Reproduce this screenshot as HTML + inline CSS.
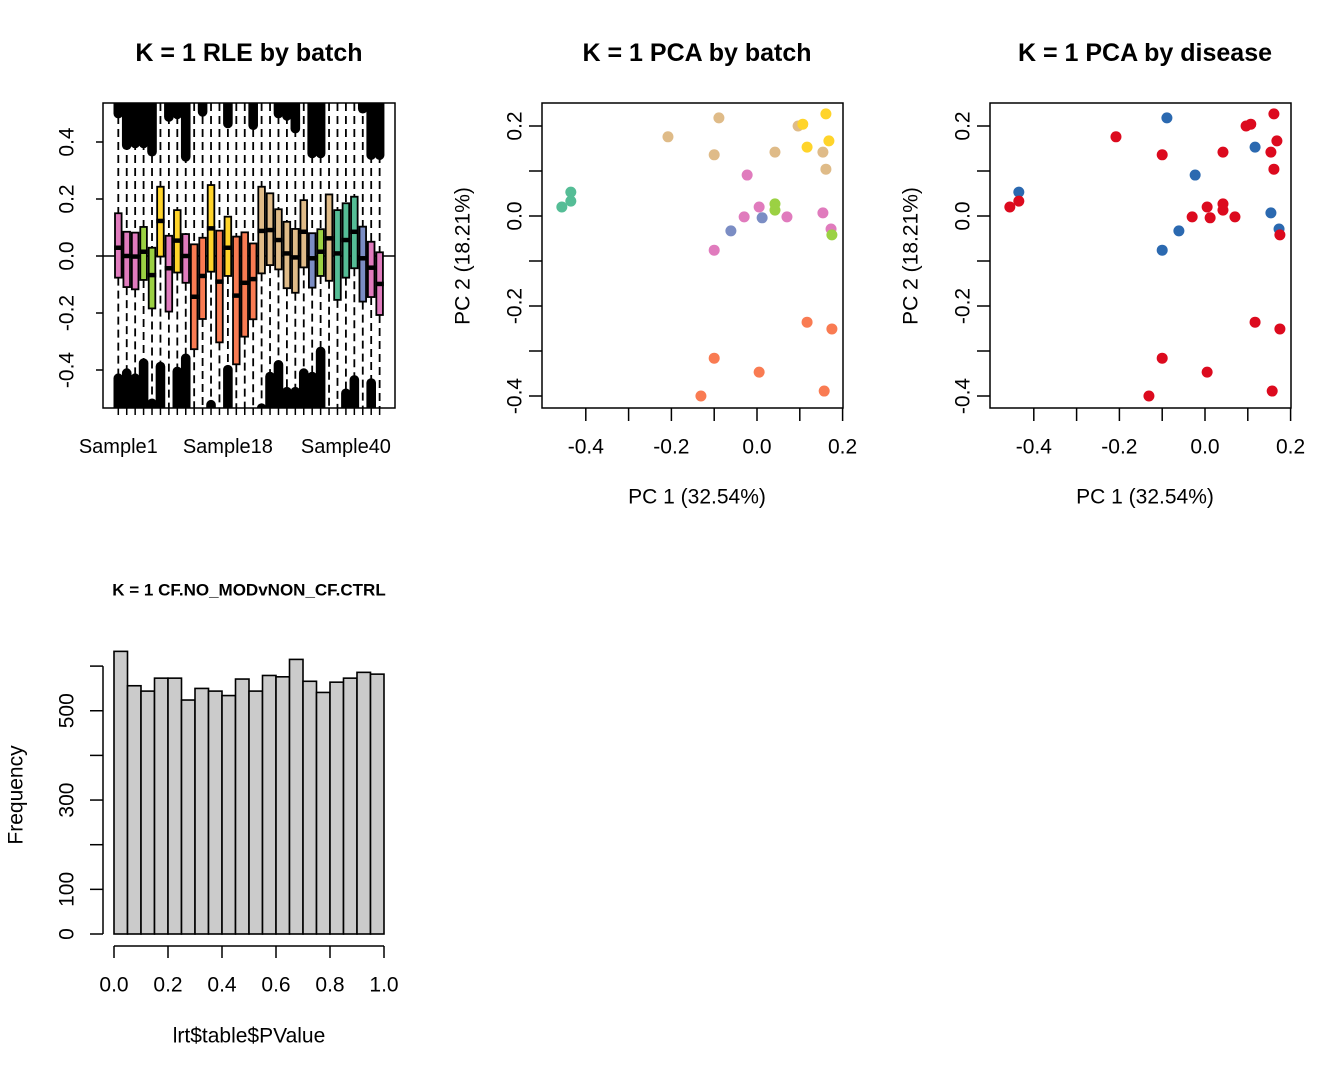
<!DOCTYPE html>
<html><head><meta charset="utf-8"><style>
html,body{margin:0;padding:0;background:#fff}
svg{display:block;font-family:"Liberation Sans",Arial,sans-serif}
</style></head><body>
<svg id="c" width="1344" height="1075" viewBox="0 0 1344 1075" xmlns="http://www.w3.org/2000/svg"></svg>
<script>
// ---------- RLE data ----------
const rleColors = ["pink","pink","pink","green","green","gold","pink","gold","pink","orange","orange","gold","orange","gold","orange","orange","orange","tan","tan","tan","tan","tan","tan","blue","green","tan","teal","teal","teal","blue","pink","pink"];
const rleQ3  = [0.150,0.085,0.082,0.102,0.029,0.243,0.071,0.161,0.077,0.041,0.064,0.249,0.089,0.138,0.068,0.083,0.044,0.243,0.220,0.164,0.120,0.095,0.196,0.080,0.094,0.216,0.161,0.185,0.208,0.103,0.050,0.013];
const rleMed = [0.029,0,-0.002,0.015,-0.067,0.123,-0.043,0.054,0,-0.143,-0.070,0.097,-0.090,0.029,-0.139,-0.094,-0.081,0.088,0.091,0.056,0.009,-0.005,0.085,-0.008,0.015,0.062,0.009,0.056,0.085,-0.008,-0.041,-0.098];
const rleQ1  = [-0.076,-0.109,-0.117,-0.084,-0.184,-0.002,-0.195,-0.058,-0.094,-0.327,-0.221,-0.055,-0.303,-0.070,-0.380,-0.283,-0.222,-0.061,-0.032,-0.047,-0.113,-0.129,-0.040,-0.111,-0.070,-0.087,-0.154,-0.076,-0.043,-0.160,-0.144,-0.207];
const rleTopOut = [0.483,0.372,0.378,0.378,0.349,null,0.471,0.480,0.331,null,0.489,null,null,0.448,null,null,0.442,null,null,0.483,0.475,0.430,null,0.343,0.343,null,null,null,null,0.500,0.337,0.337];
const rleBotOut = [-0.412,-0.394,-0.412,-0.359,-0.500,-0.371,null,-0.388,-0.342,null,null,-0.505,null,-0.382,null,null,null,-0.517,-0.406,-0.365,-0.459,-0.459,-0.394,-0.406,-0.318,null,null,-0.465,-0.418,null,-0.429,null];
const rleLabels = [[0,"Sample1"],[13,"Sample18"],[27,"Sample40"]];
const rleTicks = [-0.4,-0.2,0.0,0.2,0.4];

// ---------- PCA data ----------
const pcaX = [-0.456,-0.435,-0.435,-0.208,-0.089,-0.100,0.042,0.096,0.154,0.161,0.161,0.107,0.117,0.168,-0.023,-0.100,-0.030,0.005,0.070,0.154,0.173,-0.061,0.012,0.042,0.042,0.175,0.117,0.175,-0.100,0.005,-0.131,0.157];
const pcaY = [0.020,0.053,0.033,0.176,0.218,0.136,0.142,0.200,0.142,0.104,0.227,0.204,0.153,0.167,0.091,-0.076,-0.002,0.020,-0.002,0.007,-0.029,-0.033,-0.004,0.027,0.013,-0.042,-0.236,-0.251,-0.316,-0.347,-0.400,-0.389];
const pcaBatch = ["teal","teal","teal","tan","tan","tan","tan","tan","tan","tan","gold","gold","gold","gold","pink","pink","pink","pink","pink","pink","pink","blue","blue","green","green","green","orange","orange","orange","orange","orange","orange"];
const pcaDisease = ["r","b","r","r","b","r","r","r","r","r","r","r","b","r","b","b","r","r","r","b","b","b","r","r","r","r","r","r","r","r","r","r"];
const pcaXTicks = [-0.4,-0.3,-0.2,-0.1,0.0,0.1,0.2];
const pcaYTicks = [-0.4,-0.3,-0.2,-0.1,0.0,0.1,0.2];

// ---------- Histogram data ----------
const histCounts = [633,556,544,573,573,524,550,544,534,571,544,579,576,615,566,541,564,573,586,582];
const histYTicks = [0,100,200,300,400,500,600];
const histYLabels = ["0","100","","300","","500",""];
const histXTicks = [0,0.2,0.4,0.6,0.8,1.0];

const COL = {pink:"#e07bbd",green:"#9bd143",gold:"#ffd42a",orange:"#f97b52",tan:"#dfbb88",blue:"#7b8dc4",teal:"#55bd96",r:"#dc0a1e",b:"#2b69b0"};
const FS=21, TS=25;
const NS="http://www.w3.org/2000/svg";
const svg=document.getElementById('c');
function mk(tag,attrs,parent,name,txt){const e=document.createElementNS(NS,tag);for(const k in attrs)e.setAttribute(k,attrs[k]);


if(txt!==undefined)e.textContent=txt;(parent||svg).appendChild(e);return e;}
function text(x,y,s,size,parent,name,opts){opts=opts||{};const a={x:x,y:y,'font-size':size,'text-anchor':'middle','dominant-baseline':'central',fill:'#000'};
if(opts.bold)a['font-weight']='bold';if(opts.rot)a.transform=`rotate(-90 ${x} ${y})`;return mk('text',a,parent,name,s);}

// ---------- RLE plot ----------
(function(){
 const g=mk('g',{},svg,'rle-plot');
 const L=103,R=395,T=103,B=408;
 const y=v=>256-v*285, x=i=>118.3+i*8.43;
 text(249,53,"K = 1 RLE by batch",TS,g,'rle-title',{bold:1});
 const clip=mk('clipPath',{id:'rc'},g,'rle-clip');mk('rect',{x:L,y:T,width:R-L,height:B-T},clip,'rle-clip-rect');
 const pg=mk('g',{'clip-path':'url(#rc)'},g,'rle-marks');
 for(let i=0;i<rleQ3.length;i++){
   const cx=x(i);
   mk('line',{x1:cx,x2:cx,y1:T,y2:y(rleQ3[i]),stroke:'#000','stroke-width':1.8,'stroke-dasharray':'8 5'},pg,'rle-whisker-upper');
   mk('line',{x1:cx,x2:cx,y1:y(rleQ1[i]),y2:B,stroke:'#000','stroke-width':1.8,'stroke-dasharray':'8 5'},pg,'rle-whisker-lower');
   if(rleTopOut[i]!==null){mk('rect',{x:cx-4.8,y:T-10,width:9.6,height:y(rleTopOut[i])-T+10,rx:4.8,fill:'#000'},pg,'rle-outliers-top');}
   if(rleBotOut[i]!==null){mk('rect',{x:cx-4.8,y:y(rleBotOut[i]),width:9.6,height:B-y(rleBotOut[i])+10,rx:4.8,fill:'#000'},pg,'rle-outliers-bottom');}
 }
 mk('line',{x1:L,x2:R,y1:y(0),y2:y(0),stroke:'#000','stroke-width':1.5},pg,'rle-zero-line');
 for(let i=0;i<rleQ3.length;i++){
   const cx=x(i);
   mk('rect',{x:cx-3.3,y:y(rleQ3[i]),width:6.6,height:y(rleQ1[i])-y(rleQ3[i]),fill:COL[rleColors[i]],stroke:'#000','stroke-width':1.8},pg,'rle-box');
   mk('line',{x1:cx-4.2,x2:cx+4.2,y1:y(rleMed[i]),y2:y(rleMed[i]),stroke:'#000','stroke-width':4.5},pg,'rle-median');
   mk('line',{x1:cx,x2:cx,y1:B,y2:B+7,stroke:'#000','stroke-width':1.5},g,'rle-x-tick');
 }
 mk('rect',{x:L,y:T,width:R-L,height:B-T,fill:'none',stroke:'#000','stroke-width':1.5},g,'rle-frame');
 rleLabels.forEach(([i,s])=>text(x(i),447,s,FS-1,g,'rle-x-label'));
 rleTicks.forEach(v=>{mk('line',{x1:L-7,x2:L,y1:y(v),y2:y(v),stroke:'#000','stroke-width':1.5},g,'rle-y-tick');
   text(67,y(v),v.toFixed(1),FS,g,'rle-y-label',{rot:1});});
})();

// ---------- PCA plots ----------
function pca(off,title,colArr,nm){
 const g=mk('g',{},svg,nm);
 const L=542+off,R=843+off,T=103,B=408;
 const x=v=>757+off+v*428, y=v=>216-v*450;
 text(697+off,53,title,TS,g,nm+'-title',{bold:1});
 pcaX.forEach((v,i)=>{mk('circle',{cx:x(v),cy:y(pcaY[i]),r:5.5,fill:COL[colArr[i]]},g,nm+'-point');});
 mk('rect',{x:L,y:T,width:R-L,height:B-T,fill:'none',stroke:'#000','stroke-width':1.5},g,nm+'-frame');
 pcaXTicks.forEach((v,i)=>{mk('line',{x1:x(v),x2:x(v),y1:B,y2:B+13,stroke:'#000','stroke-width':1.5},g,nm+'-x-tick');
   if(i%2===0)text(x(v),447,v.toFixed(1),FS,g,nm+'-x-label');});
 pcaYTicks.forEach((v,i)=>{mk('line',{x1:L-13,x2:L,y1:y(v),y2:y(v),stroke:'#000','stroke-width':1.5},g,nm+'-y-tick');
   if(i%2===0)text(515+off,y(v),v.toFixed(1),FS,g,nm+'-y-label',{rot:1});});
 text(697+off,497,"PC 1 (32.54%)",FS,g,nm+'-x-title');
 text(463+off,256,"PC 2 (18.21%)",FS,g,nm+'-y-title',{rot:1});
}
pca(0,"K = 1 PCA by batch",pcaBatch,'pca-batch');
pca(448,"K = 1 PCA by disease",pcaDisease,'pca-disease');

// ---------- Histogram ----------
(function(){
 const g=mk('g',{},svg,'histogram');
 const x=v=>114+v*270, y=v=>934-v*0.4465;
 text(249,590,"K = 1 CF.NO_MODvNON_CF.CTRL",17,g,'hist-title',{bold:1});
 const w=1/histCounts.length;
 histCounts.forEach((c,i)=>{mk('rect',{x:x(i*w),y:y(c),width:x((i+1)*w)-x(i*w),height:y(0)-y(c),fill:'#cbcbcb',stroke:'#000','stroke-width':1.6},g,'hist-bar');});
 mk('line',{x1:x(0),x2:x(1),y1:946,y2:946,stroke:'#000','stroke-width':1.5},g,'hist-x-axis');
 histXTicks.forEach(v=>{mk('line',{x1:x(v),x2:x(v),y1:946,y2:958,stroke:'#000','stroke-width':1.5},g,'hist-x-tick');
   text(x(v),985,v.toFixed(1),FS,g,'hist-x-label');});
 mk('line',{x1:103,x2:103,y1:y(0),y2:y(600),stroke:'#000','stroke-width':1.5},g,'hist-y-axis');
 histYTicks.forEach((v,i)=>{mk('line',{x1:90,x2:103,y1:y(v),y2:y(v),stroke:'#000','stroke-width':1.5},g,'hist-y-tick');
   if(histYLabels[i])text(67,y(v),histYLabels[i],FS,g,'hist-y-label',{rot:1});});
 text(249,1036,"lrt$table$PValue",FS,g,'hist-x-title');
 text(16,795,"Frequency",FS,g,'hist-y-title',{rot:1});
})();
</script>
</body></html>
